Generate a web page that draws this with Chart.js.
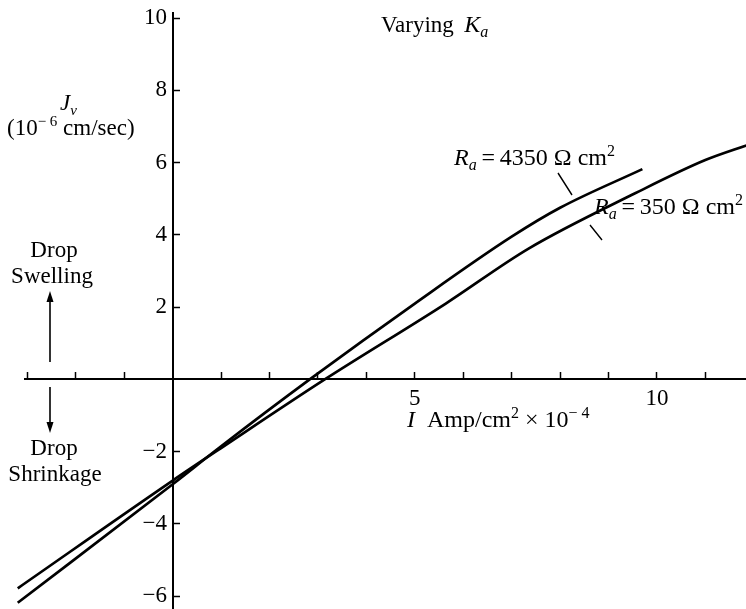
<!DOCTYPE html>
<html>
<head>
<meta charset="utf-8">
<script src="https://cdn.jsdelivr.net/npm/chart.js@4.4.1/dist/chart.umd.min.js"></script>
<style>
  html, body { margin: 0; padding: 0; background: #fff; overflow: hidden; }
</style>
</head>
<body>
<canvas id="chart" width="746" height="609"></canvas>
<script>
// I (Amp/cm^2 x 10^-4) and Jv (10^-6 cm/sec)
const currentHigh = [-3.2, 0, 1, 2.83, 5, 7, 8, 9.7];          // Ra = 4350
const fluxHigh    = [-6.18, -2.9, -1.85, 0, 2.1, 3.95, 4.75, 5.82];
const currentLow  = [-3.2, 0, 1, 3.14, 5.64, 7.35, 9.55, 11, 11.9]; // Ra = 350
const fluxLow     = [-5.78, -2.8, -1.9, 0, 2.1, 3.62, 5.15, 6.07, 6.5];

const xTicks  = [-3, -2, -1, 1, 2, 3, 4, 5, 6, 7, 8, 9, 10, 11];
const xLabels = [5, 10];
const yTicks  = [-6, -4, -2, 2, 4, 6, 8, 10];

const SERIF = '"Liberation Serif", "DejaVu Serif", serif';
const FS = 23;

const toPoints = (xs, ys) => xs.map((x, i) => ({ x: x, y: ys[i] }));

// text pieces: {t, i: italic, sub, sup, s: size}
function drawRich(ctx, x, y, parts, size, align) {
  const fontFor = p => (p.i ? 'italic ' : '') + (p.s || ((p.sub || p.sup) ? Math.round(size * 0.65) : size)) + 'px ' + SERIF;
  let w = 0;
  parts.forEach(p => { ctx.font = fontFor(p); w += ctx.measureText(p.t).width; });
  let cx = align === 'center' ? x - w / 2 : x;
  parts.forEach(p => {
    ctx.font = fontFor(p);
    const dy = p.sub ? size * 0.22 : (p.sup ? -size * 0.38 : 0);
    ctx.fillText(p.t, cx, y + dy);
    cx += ctx.measureText(p.t).width;
  });
}

function arrow(ctx, x, from, tip) {
  const d = tip > from ? 1 : -1;
  ctx.beginPath();
  ctx.moveTo(x, from);
  ctx.lineTo(x, tip - d * 8);
  ctx.stroke();
  ctx.beginPath();
  ctx.moveTo(x, tip);
  ctx.lineTo(x - 3.5, tip - d * 11);
  ctx.lineTo(x + 3.5, tip - d * 11);
  ctx.closePath();
  ctx.fill();
}

const annotations = {
  id: 'annotations',
  afterDraw(chart) {
    const ctx = chart.ctx;
    ctx.save();
    ctx.fillStyle = '#000';
    ctx.strokeStyle = '#000';
    ctx.textBaseline = 'alphabetic';
    ctx.textAlign = 'left';

    drawRich(ctx, 381, 32, [{ t: 'Varying\u2009 ' }, { t: 'K', i: true, s: 24 }, { t: 'a', i: true, sub: true, s: 16 }], FS);

    drawRich(ctx, 60, 110, [{ t: 'J', i: true }, { t: 'v', i: true, sub: true }], FS);
    drawRich(ctx, 7, 135, [{ t: '(10' }, { t: '\u2212 6', sup: true }, { t: ' cm/sec)' }], FS);

    drawRich(ctx, 54, 257, [{ t: 'Drop' }], FS, 'center');
    drawRich(ctx, 52, 283, [{ t: 'Swelling' }], FS, 'center');
    drawRich(ctx, 54, 455, [{ t: 'Drop' }], FS, 'center');
    drawRich(ctx, 55, 481, [{ t: 'Shrinkage' }], FS, 'center');

    ctx.lineWidth = 1.6;
    arrow(ctx, 50, 362, 291);
    arrow(ctx, 50, 387, 433);

    drawRich(ctx, 407, 427, [{ t: 'I', i: true }, { t: '  Amp/cm' }, { t: '2', sup: true }, { t: ' \u00d7 10' }, { t: '\u2212 4', sup: true }], 24);

    drawRich(ctx, 454, 165, [{ t: 'R', i: true }, { t: 'a', i: true, sub: true }, { t: '\u2009=\u20094350 \u03a9 cm' }, { t: '2', sup: true }], 24);
    drawRich(ctx, 594, 214, [{ t: 'R', i: true }, { t: 'a', i: true, sub: true }, { t: '\u2009=\u2009350 \u03a9 cm' }, { t: '2', sup: true }], 24);

    ctx.lineWidth = 1.4;
    ctx.beginPath();
    ctx.moveTo(558, 173); ctx.lineTo(572, 195);
    ctx.moveTo(590, 225); ctx.lineTo(602, 240);
    ctx.stroke();
    ctx.restore();
  }
};

const lineStyle = {
  showLine: true,
  borderColor: '#000',
  borderWidth: 2.7,
  pointRadius: 0,
  fill: false,
  clip: false,
  cubicInterpolationMode: 'monotone'
};

new Chart(document.getElementById('chart'), {
  type: 'scatter',
  data: {
    datasets: [
      Object.assign({ label: 'Ra = 4350 \u03a9 cm2', data: toPoints(currentHigh, fluxHigh) }, lineStyle),
      Object.assign({ label: 'Ra = 350 \u03a9 cm2', data: toPoints(currentLow, fluxLow) }, lineStyle)
    ]
  },
  options: {
    responsive: false,
    animation: false,
    layout: { padding: { left: 25, top: 13, right: 0, bottom: 0 } },
    plugins: { legend: { display: false }, tooltip: { enabled: false } },
    scales: {
      x: {
        type: 'linear',
        min: -3.05,
        max: 11.84,
        position: { y: 0 },
        afterBuildTicks: scale => { scale.ticks = xTicks.map(v => ({ value: v })); },
        grid: { drawOnChartArea: false, drawTicks: true, tickLength: -8, tickColor: '#000', tickWidth: 1.5 },
        border: { display: true, color: '#000', width: 2 },
        ticks: {
          autoSkip: false,
          maxRotation: 0,
          padding: 27,
          color: '#000',
          font: { family: SERIF, size: FS, lineHeight: 0.01 },
          callback: v => xLabels.includes(v) ? String(v) : ''
        }
      },
      y: {
        type: 'linear',
        min: -6.35,
        max: 10.14,
        position: { x: 0 },
        afterBuildTicks: scale => { scale.ticks = yTicks.map(v => ({ value: v })); },
        grid: { drawOnChartArea: false, drawTicks: true, tickLength: -8, tickColor: '#000', tickWidth: 1.5 },
        border: { display: true, color: '#000', width: 2 },
        ticks: {
          autoSkip: false,
          padding: 0,
          color: '#000',
          font: { family: SERIF, size: FS, lineHeight: 0.01 },
          callback: v => (v < 0 ? '\u2212' + Math.abs(v) : String(v)) + ' '
        }
      }
    }
  },
  plugins: [annotations]
});
</script>
</body>
</html>
